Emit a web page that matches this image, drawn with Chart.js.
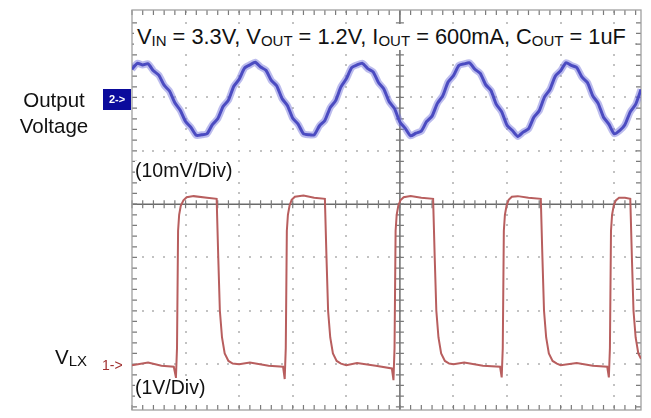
<!DOCTYPE html>
<html>
<head>
<meta charset="utf-8">
<script src="https://cdn.jsdelivr.net/npm/chart.js@4.4.1/dist/chart.umd.min.js"></script>
<style>
  html,body{margin:0;padding:0;background:#fff;}
  #wrap{position:relative;width:651px;height:418px;font-family:"Liberation Sans",Arial,sans-serif;color:#111;}
  canvas{position:absolute;left:0;top:0;}
  .lbl{position:absolute;white-space:nowrap;line-height:1;}
  .sub{font-size:15px;position:relative;top:2px;}
</style>
</head>
<body>
<div id="wrap">
  <canvas id="c" width="651" height="418"></canvas>
  <div class="lbl" style="left:134px;top:24px;font-size:21.8px;background:#fff;padding:2px 3px;">V<span class="sub">IN</span> = 3.3V, V<span class="sub">OUT</span> = 1.2V, I<span class="sub">OUT</span> = 600mA, C<span class="sub">OUT</span> = 1uF</div>
  <div class="lbl" style="left:14px;top:87px;font-size:20.5px;text-align:center;width:80px;line-height:26px;">Output<br>Voltage</div>
  <div class="lbl" style="left:103px;top:89px;width:28px;height:21px;background:#0b0b9c;color:#fff;font-size:11px;font-weight:bold;line-height:21px;text-align:center;">2-&gt;</div>
  <div class="lbl" style="left:135px;top:161px;font-size:19.5px;background:#fff;">(10mV/Div)</div>
  <div class="lbl" style="left:55px;top:347px;font-size:20.5px;">V<span class="sub" style="font-size:15px;">LX</span></div>
  <div class="lbl" style="left:102px;top:358px;font-size:14px;color:#a03030;">1-&gt;</div>
  <div class="lbl" style="left:135px;top:378px;font-size:19.5px;background:#fff;">(1V/Div)</div>
</div>
<script>
// time axis in divisions (0 = screen centre)
const timeDiv = [-5.0,-4.9,-4.8,-4.7,-4.6,-4.5,-4.4,-4.3,-4.2,-4.1,-4.0,-3.9,-3.8,-3.7,-3.6,-3.5,-3.4,-3.3,-3.2,-3.1,
 -3.0,-2.9,-2.8,-2.7,-2.6,-2.5,-2.4,-2.3,-2.2,-2.1,-2.0,-1.9,-1.8,-1.7,-1.6,-1.5,-1.4,-1.3,-1.2,-1.1,
 -1.0,-0.9,-0.8,-0.7,-0.6,-0.5,-0.4,-0.3,-0.2,-0.1,0.0,0.1,0.2,0.3,0.4,0.5,0.6,0.7,0.8,0.9,
 1.0,1.1,1.2,1.3,1.4,1.5,1.6,1.7,1.8,1.9,2.0,2.1,2.2,2.3,2.4,2.5,2.6,2.7,2.8,2.9,
 3.0,3.1,3.2,3.3,3.4,3.5,3.6,3.7,3.8,3.9,4.0,4.1,4.2,4.3,4.4,4.5];
// output voltage ripple, mV (10 mV/div)
const voutMv = [5.3,6.4,6.1,6.3,5.0,4.2,2.3,1.2,-1.0,-2.4,-4.5,-5.6,-7.1,-7.0,-6.8,-5.1,-4.0,-1.7,-0.5,2.1,
 3.4,5.5,6.1,6.6,5.7,5.1,3.2,2.2,-0.2,-1.5,-3.9,-5.0,-6.8,-7.0,-7.0,-5.3,-4.3,-1.9,-0.6,2.0,
 3.5,5.6,6.1,6.4,5.4,4.8,2.8,1.6,-0.8,-2.1,-4.6,-5.8,-7.2,-6.7,-6.3,-4.5,-3.5,-1.1,0.3,2.9,
 4.1,6.0,6.3,6.5,5.3,4.5,2.4,1.3,-1.3,-2.7,-5.2,-6.2,-7.3,-6.5,-5.9,-3.7,-2.5,0.1,1.5,4.0,
 5.0,6.5,6.0,5.6,3.8,2.8,0.3,-1.1,-3.7,-5.0,-6.8,-6.2,-5.1,-2.7,-1.3,1.5];
// switching node, time (div) and volts (1 V/div)
const lxTime = [-5.0,-4.7,-4.45,-4.22,-4.18,-4.16,-4.14,-4.12,-4.09,-4.04,-3.98,-3.85,-3.6,-3.42,-3.39,-3.36,-3.32,-3.27,-3.2,-3.12,-3.0,
 -2.8,-2.45,-2.18,-2.15,-2.13,-2.11,-2.09,-2.06,-2.02,-1.96,-1.8,-1.6,-1.40,-1.37,-1.34,-1.30,-1.25,-1.18,-1.10,-1.0,
 -0.8,-0.45,-0.15,-0.12,-0.10,-0.08,-0.06,-0.03,0.01,0.07,0.2,0.4,0.62,0.65,0.68,0.72,0.77,0.84,0.92,1.0,
 1.2,1.55,1.87,1.90,1.92,1.94,1.96,1.99,2.03,2.09,2.2,2.4,2.63,2.66,2.69,2.73,2.78,2.85,2.93,3.0,
 3.3,3.6,3.87,3.90,3.92,3.94,3.96,3.99,4.03,4.09,4.2,4.30,4.33,4.36,4.40,4.45,4.5];
const lxVolt = [-0.02,0.03,-0.03,-0.05,-0.25,0.3,2.5,2.8,2.97,3.07,3.13,3.15,3.12,3.1,2.0,1.0,0.5,0.2,0.06,0.01,0.0,
 0.03,-0.03,-0.05,-0.28,0.3,2.5,2.8,2.97,3.08,3.14,3.16,3.12,3.1,2.0,1.0,0.5,0.2,0.06,0.01,-0.02,
 0.02,-0.03,-0.08,-0.3,0.3,2.5,2.8,2.97,3.07,3.13,3.15,3.12,3.1,2.0,1.0,0.5,0.2,0.06,0.01,0.0,
 0.03,-0.03,-0.05,-0.25,0.3,2.5,2.8,2.97,3.08,3.14,3.15,3.12,3.1,2.0,1.0,0.5,0.2,0.06,0.01,-0.02,
 0.02,-0.03,-0.05,-0.25,0.3,2.5,2.8,2.97,3.07,3.12,3.12,3.1,2.0,1.0,0.5,0.2,0.1];

const gridPlugin = {
  id:'scopeGrid',
  beforeDatasetsDraw(chart){
    const {ctx, chartArea:a} = chart;
    const xs = chart.scales.x, ys = chart.scales.g;
    ctx.save();
    ctx.fillStyle = '#c2c2c2';
    for(let d=-4; d<=4; d++){
      if(d===0) continue;
      const px = Math.round(xs.getPixelForValue(d));
      for(let t=-3.8; t<=ys.max; t+=0.2){
        const py = Math.round(ys.getPixelForValue(t));
        ctx.fillRect(px-1, py-1, 2, 2);
      }
    }
    for(let d=-3; d<=3; d++){
      if(d===0) continue;
      const py = Math.round(ys.getPixelForValue(d));
      for(let t=-4.8; t<=xs.max; t+=0.2){
        const px = Math.round(xs.getPixelForValue(t));
        ctx.fillRect(px-1, py-1, 2, 2);
      }
    }
    ctx.strokeStyle = '#6a6a6a';
    ctx.lineWidth = 1.5;
    const cx = xs.getPixelForValue(0), cy = ys.getPixelForValue(0);
    ctx.beginPath();
    ctx.moveTo(cx, a.top); ctx.lineTo(cx, a.bottom);
    ctx.moveTo(a.left, cy); ctx.lineTo(a.right, cy);
    ctx.stroke();
    ctx.lineWidth = 1.2;
    ctx.strokeStyle = '#7a7a7a';
    ctx.beginPath();
    for(let t=-5; t<=xs.max+1e-6; t+=0.2){
      const px = xs.getPixelForValue(t);
      ctx.moveTo(px, cy-4); ctx.lineTo(px, cy+4);
      ctx.moveTo(px, a.top); ctx.lineTo(px, a.top+5);
      ctx.moveTo(px, a.bottom); ctx.lineTo(px, a.bottom-5);
    }
    for(let t=-3.8; t<=3.6; t+=0.2){
      const py = ys.getPixelForValue(t);
      ctx.moveTo(cx-4, py); ctx.lineTo(cx+4, py);
      ctx.moveTo(a.left, py); ctx.lineTo(a.left+5, py);
      ctx.moveTo(a.right, py); ctx.lineTo(a.right-5, py);
    }
    ctx.stroke();
    ctx.strokeStyle = '#a0a0a0';
    ctx.lineWidth = 1.3;
    ctx.strokeRect(a.left, a.top, a.right-a.left, a.bottom-a.top);
    ctx.restore();
  }
};

const voutPts = timeDiv.map((t,i)=>({x:t, y:voutMv[i]}));
const lxPts = lxTime.map((t,i)=>({x:t, y:lxVolt[i]}));

new Chart(document.getElementById('c'), {
  type:'scatter',
  data:{datasets:[
    {data:voutPts, yAxisID:'yv', showLine:true, pointRadius:0, borderColor:'rgba(120,120,220,0.5)', borderWidth:7, tension:0.2},
    {data:voutPts, yAxisID:'yv', showLine:true, pointRadius:0, borderColor:'#1e1ea6', borderWidth:3, tension:0.2},
    {data:lxPts, yAxisID:'yl', showLine:true, pointRadius:0, borderColor:'#b85e5e', borderWidth:2, tension:0}
  ]},
  options:{
    responsive:false, animation:false,
    layout:{padding:{left:132, right:10, top:10, bottom:8}},
    plugins:{legend:{display:false}, tooltip:{enabled:false}},
    scales:{
      x:{type:'linear', min:-5, max:4.5, display:false},
      g:{type:'linear', min:-3.86, max:3.64, display:false, position:'left'},
      yv:{type:'linear', min:-58.6, max:16.4, display:false},
      yl:{type:'linear', min:-0.86, max:6.64, display:false}
    }
  },
  plugins:[gridPlugin]
});
</script>
</body>
</html>
